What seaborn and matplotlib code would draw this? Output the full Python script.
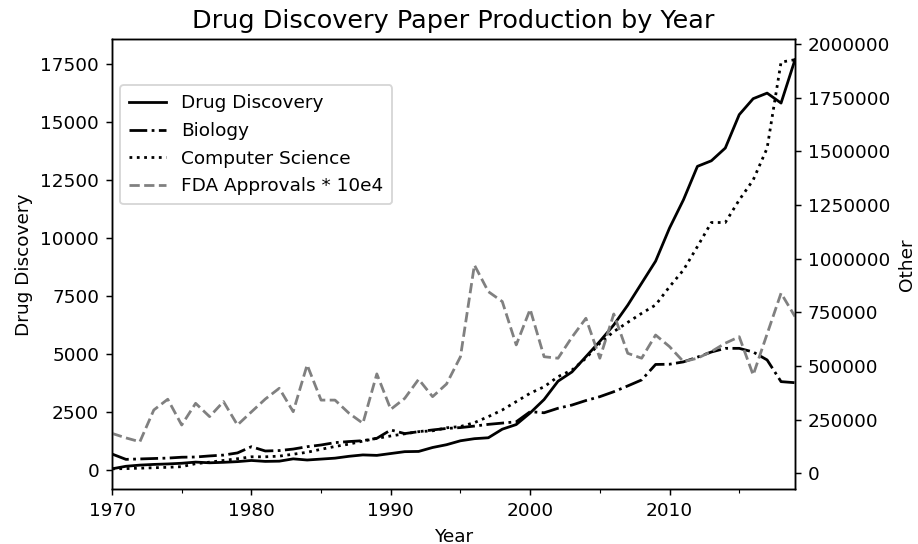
import matplotlib
matplotlib.use("Agg")
import matplotlib.pyplot as plt
from matplotlib.ticker import MultipleLocator
import numpy as np
import pandas as pd
import seaborn as sns

years = list(range(1970, 2020))

drug_discovery = [
    40, 150, 200, 230, 250, 280, 330, 300, 320, 350,
    400, 360, 370, 470, 420, 460, 500, 580, 640, 620,
    700, 780, 790, 960, 1080, 1250, 1340, 1380, 1750, 1950,
    2450, 3030, 3820, 4220, 4880, 5540, 6250, 7100, 8050, 9000,
    10430, 11650, 13090, 13330, 13880, 15320, 16010, 16250, 15820, 17690,
]

biology = [
    90000, 65000, 67000, 69000, 71000, 75000, 76000, 81000, 85000, 95000,
    124000, 104000, 106000, 113000, 124000, 132000, 143000, 148000, 152000, 163000,
    202000, 185000, 194000, 202000, 209000, 213000, 220000, 228000, 234000, 240000,
    287000, 282000, 303000, 318000, 339000, 357000, 380000, 407000, 435000, 507000,
    508000, 519000, 541000, 565000, 582000, 582000, 565000, 528000, 427000, 422000,
]

computer_science = [
    21000, 22000, 24000, 26000, 28000, 31000, 45000, 52000, 60000, 68000,
    77000, 77000, 80000, 89000, 98000, 112000, 125000, 136000, 150000, 163000,
    174000, 184000, 194000, 198000, 212000, 218000, 236000, 264000, 295000, 334000,
    373000, 403000, 450000, 481000, 536000, 606000, 660000, 703000, 745000, 784000,
    869000, 947000, 1056000, 1168000, 1168000, 1273000, 1366000, 1514000, 1915000, 1926000,
]

fda_approvals_scaled = [
    186000, 165000, 147000, 295000, 345000, 225000, 326000, 264000, 334000, 225000,
    286000, 346000, 396000, 287000, 505000, 341000, 341000, 280000, 233000, 463000,
    298000, 349000, 438000, 357000, 416000, 543000, 970000, 846000, 800000, 598000,
    764000, 543000, 536000, 634000, 722000, 536000, 742000, 559000, 536000, 644000,
    590000, 520000, 536000, 567000, 606000, 636000, 458000, 649000, 839000, 730000,
]

df = pd.DataFrame({
    "Year": years,
    "Drug Discovery": drug_discovery,
    "Biology": biology,
    "Computer Science": computer_science,
    "FDA Approvals * 10e4": fda_approvals_scaled,
})

dpi = 133
fig = plt.figure(figsize=(918 / dpi, 544 / dpi), dpi=dpi)
ax = fig.add_axes([0.122, 0.1006, 0.744, 0.8272])
ax2 = ax.twinx()

sns.lineplot(data=df, x="Year", y="Drug Discovery", ax=ax, color="black",
             linestyle="-", linewidth=1.5, label="Drug Discovery", legend=False)
sns.lineplot(data=df, x="Year", y="Biology", ax=ax2, color="black",
             linestyle="-.", linewidth=1.5, label="Biology", legend=False)
sns.lineplot(data=df, x="Year", y="Computer Science", ax=ax2, color="black",
             linestyle=":", linewidth=1.5, label="Computer Science", legend=False)
sns.lineplot(data=df, x="Year", y="FDA Approvals * 10e4", ax=ax2, color="gray",
             linestyle="--", linewidth=1.5, label="FDA Approvals * 10e4", legend=False)

ax.set_xlim(1970, 2019)
ax.xaxis.set_major_locator(MultipleLocator(10))
ax.xaxis.set_minor_locator(MultipleLocator(5))
ax.tick_params(axis="both", which="major", labelsize=10)
ax2.tick_params(axis="y", which="major", labelsize=10)
ax.set_xlabel("Year", fontsize=10)
ax.set_ylabel("Drug Discovery", fontsize=10)
ax2.set_ylabel("Other", fontsize=10)
ax2.ticklabel_format(style="plain", axis="y", useOffset=False)
ax.set_title("Drug Discovery Paper Production by Year", fontsize=13.8)

h1, l1 = ax.get_legend_handles_labels()
h2, l2 = ax2.get_legend_handles_labels()
if ax.get_legend() is not None:
    ax.get_legend().remove()
ax2.legend(h1 + h2, l1 + l2, loc="upper left", bbox_to_anchor=(0.0117, 0.898),
           borderaxespad=0, fontsize=10, borderpad=0.5, labelspacing=0.52)

fig.savefig("out.png", dpi=dpi)
